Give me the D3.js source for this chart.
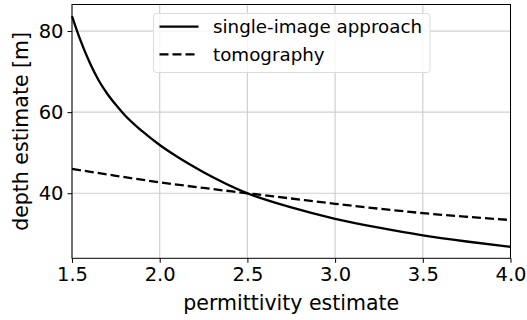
<!DOCTYPE html>
<html>
<head>
<meta charset="utf-8">
<script src="https://cdn.jsdelivr.net/npm/d3@7"></script>
<style>
  html, body { margin: 0; padding: 0; background: #fff; }
  svg { display: block; font-family: "DejaVu Sans", sans-serif; }
</style>
</head>
<body>
<svg id="chart" width="527" height="320"></svg>
<script>
// Permittivity values sampled along each curve
const epsSingle = [1.5, 1.55, 1.6, 1.65, 1.7, 1.75, 1.8, 1.9, 2.0, 2.1, 2.25, 2.5, 2.75, 3.0, 3.25, 3.5, 3.75, 4.0];
// Depth from the single-image approach [m]
const depthSingle = [83.7, 77.5, 72.3, 68.0, 64.6, 61.8, 59.3, 55.3, 51.9, 49.0, 45.2, 40.0, 36.5, 33.7, 31.5, 29.6, 28.1, 26.8];

const epsTomo = [1.5, 1.75, 2.0, 2.25, 2.5, 2.75, 3.0, 3.25, 3.5, 3.75, 4.0];
// Depth from tomography [m]
const depthTomo = [46.0, 44.3, 42.7, 41.3, 40.0, 38.7, 37.4, 36.2, 35.1, 34.2, 33.4];

const xTicks = [1.5, 2.0, 2.5, 3.0, 3.5, 4.0];
const yTicks = [40, 60, 80];

const seriesNames = ["single-image approach", "tomography"];
const xLabel = "permittivity estimate";
const yLabel = "depth estimate [m]";

const W = 527, H = 320;
const margin = { left: 72, right: 16.5, top: 4.5, bottom: 61.7 };
const svg = d3.select("#chart");

const allY = depthSingle.concat(depthTomo);
const yMin = d3.min(allY), yMax = d3.max(allY);
const pad = (yMax - yMin) * 0.05;

const x = d3.scaleLinear().domain([1.5, 4.0]).range([margin.left, W - margin.right]);
const y = d3.scaleLinear().domain([yMin - pad, yMax + pad]).range([H - margin.bottom, margin.top]);

const tickFont = 19.5, labelFont = 20.5, legendFont = 18.3;

// grid
const grid = svg.append("g").attr("stroke", "#d0d0d0").attr("stroke-width", 1.2);
grid.selectAll("line.gx").data(xTicks).join("line")
  .attr("x1", d => x(d)).attr("x2", d => x(d))
  .attr("y1", margin.top).attr("y2", H - margin.bottom);
grid.selectAll("line.gy").data(yTicks).join("line")
  .attr("y1", d => y(d)).attr("y2", d => y(d))
  .attr("x1", margin.left).attr("x2", W - margin.right);

// curves
const line = (xs, ys) => d3.line()
  .x((d, i) => x(xs[i]))
  .y(d => y(d))
  .curve(d3.curveMonotoneX)(ys);

svg.append("path").attr("d", line(epsSingle, depthSingle))
  .attr("fill", "none").attr("stroke", "#000").attr("stroke-width", 2.3);
svg.append("path").attr("d", line(epsTomo, depthTomo))
  .attr("fill", "none").attr("stroke", "#000").attr("stroke-width", 2.3)
  .attr("stroke-dasharray", "9,4");

// axes
const xAxis = svg.append("g")
  .attr("transform", `translate(0,${H - margin.bottom})`)
  .call(d3.axisBottom(x).tickValues(xTicks).tickFormat(d3.format(".1f")).tickSize(4.5).tickPadding(4));
const yAxis = svg.append("g")
  .attr("transform", `translate(${margin.left},0)`)
  .call(d3.axisLeft(y).tickValues(yTicks).tickFormat(d3.format("d")).tickSize(4.5).tickPadding(4));

[xAxis, yAxis].forEach(g => {
  g.select(".domain").remove();
  g.selectAll(".tick line").attr("stroke", "#000").attr("stroke-width", 1);
  g.selectAll(".tick text").attr("fill", "#000")
    .style("font-family", "DejaVu Sans").style("font-size", tickFont + "px");
});

// frame
svg.append("rect")
  .attr("x", margin.left).attr("y", margin.top)
  .attr("width", W - margin.left - margin.right)
  .attr("height", H - margin.top - margin.bottom)
  .attr("fill", "none").attr("stroke", "#000").attr("stroke-width", 1);

// axis labels
svg.append("text")
  .attr("x", (margin.left + W - margin.right) / 2).attr("y", 309.5)
  .attr("text-anchor", "middle").attr("font-size", labelFont)
  .text(xLabel);
svg.append("text")
  .attr("transform", `translate(28,${(margin.top + H - margin.bottom) / 2}) rotate(-90)`)
  .attr("text-anchor", "middle").attr("font-size", labelFont)
  .text(yLabel);

// legend
const leg = svg.append("g");
leg.append("rect")
  .attr("x", 153.5).attr("y", 13.5).attr("width", 276.5).attr("height", 59)
  .attr("rx", 3).attr("fill", "#fff").attr("fill-opacity", 0.8)
  .attr("stroke", "#dcdcdc").attr("stroke-width", 1);
const legY = [26.7, 54.3];
leg.selectAll("line.l").data(seriesNames).join("line")
  .attr("x1", 159.5).attr("x2", 198.5)
  .attr("y1", (d, i) => legY[i]).attr("y2", (d, i) => legY[i])
  .attr("stroke", "#000").attr("stroke-width", 2.3)
  .attr("stroke-dasharray", (d, i) => i === 1 ? "9,4" : null);
leg.selectAll("text.l").data(seriesNames).join("text")
  .attr("x", 213).attr("y", (d, i) => legY[i] + 6.5)
  .attr("font-size", legendFont)
  .text(d => d);
</script>
</body>
</html>
